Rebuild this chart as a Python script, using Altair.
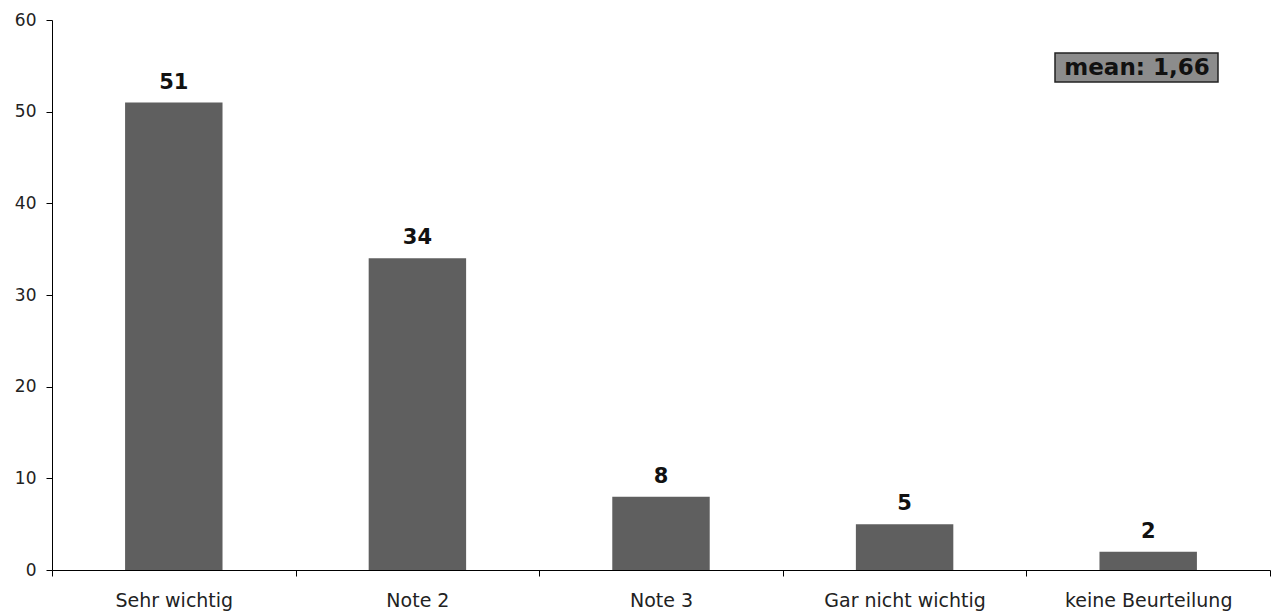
import altair as alt
import pandas as pd

# Survey answers and their counts
categories = ["Sehr wichtig", "Note 2", "Note 3", "Gar nicht wichtig", "keine Beurteilung"]
counts = [51, 34, 8, 5, 2]
mean_label = "mean: 1,66"

df = pd.DataFrame({"Antwort": categories, "Anzahl": counts})

FONT = "DejaVu Sans"

x_enc = alt.X(
    "Antwort:N",
    sort=categories,
    scale=alt.Scale(paddingInner=0, paddingOuter=0),
    axis=alt.Axis(
        title=None,
        labelAngle=0,
        labelFont=FONT,
        labelFontSize=19,
        labelColor="#222222",
        labelPadding=15,
        tickBand="extent",
        tickSize=6,
        tickColor="#000000",
        domainColor="#000000",
        grid=False,
    ),
)

y_enc = alt.Y(
    "Anzahl:Q",
    scale=alt.Scale(domain=[0, 60], nice=False),
    axis=alt.Axis(
        title=None,
        values=[0, 10, 20, 30, 40, 50, 60],
        labelFont=FONT,
        labelFontSize=17,
        labelColor="#222222",
        labelPadding=10,
        tickSize=6,
        tickColor="#000000",
        domainColor="#000000",
        grid=False,
    ),
)

bars = alt.Chart(df).mark_bar(
    color="#5f5f5f", width=alt.RelativeBandSize(0.4)
).encode(x=x_enc, y=y_enc)

values = alt.Chart(df).mark_text(
    font=FONT, fontSize=21, fontWeight="bold", color="#111111", baseline="alphabetic", dy=-14
).encode(x=alt.X("Antwort:N", sort=categories), y="Anzahl:Q", text="Anzahl:Q")

mean_df = pd.DataFrame({"label": [mean_label]})
mean_box = alt.Chart(mean_df).mark_rect(
    fill="#8c8c8c", stroke="#222222", strokeWidth=1.5
).encode(
    x=alt.value(1003), x2=alt.value(1166), y=alt.value(33), y2=alt.value(62)
)
mean_text = alt.Chart(mean_df).mark_text(
    font=FONT, fontSize=23, fontWeight="bold", color="#111111", align="center", baseline="middle"
).encode(x=alt.value(1085), y=alt.value(47.5), text="label:N")

chart = (
    alt.layer(bars, values, mean_box, mean_text)
    .properties(
        width=1218,
        height=550,
        autosize=alt.AutoSizeParams(type="none"),
        padding={"left": 52, "top": 20, "right": 7, "bottom": 45},
        background="#ffffff",
    )
    .configure_view(stroke=None)
)

chart.save("out.html", embed_options={"renderer": "svg", "actions": False})
